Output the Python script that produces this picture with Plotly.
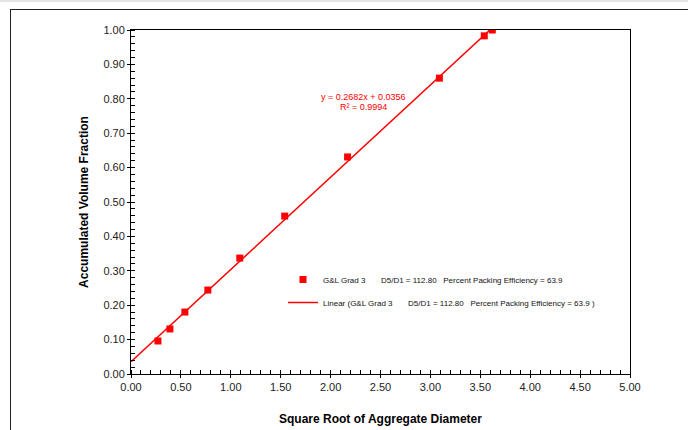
import plotly.graph_objects as go

# Data
sqrt_diameter = [0.27, 0.39, 0.54, 0.77, 1.09, 1.54, 2.17, 3.09, 3.54, 3.62]
volume_fraction = [0.096, 0.131, 0.180, 0.244, 0.337, 0.459, 0.631, 0.860, 0.983, 1.000]
slope = 0.2682
intercept = 0.0356
r_squared = 0.9994
trend_x = [0.0, max(sqrt_diameter)]
trend_y = [slope * v + intercept for v in trend_x]

x_ticks = [0.0, 0.5, 1.0, 1.5, 2.0, 2.5, 3.0, 3.5, 4.0, 4.5, 5.0]
y_ticks = [0.0, 0.1, 0.2, 0.3, 0.4, 0.5, 0.6, 0.7, 0.8, 0.9, 1.0]

NB = "\u00a0"
series_name = "G&L Grad 3" + NB * 7 + "D5/D1 = 112.80" + NB * 3 + "Percent Packing Efficiency = 63.9"
trend_name = "Linear (G&L Grad 3" + NB * 7 + "D5/D1 = 112.80" + NB * 3 + "Percent Packing Efficiency = 63.9 )"

W, H = 688, 430
L, R, T, B = 131, 58, 30, 56
pw, ph = W - L - R, H - T - B

def px(xpix):
    return (xpix - L) / pw

def py(ypix):
    return 1 + (T - ypix) / ph

fig = go.Figure()
fig.add_trace(go.Scatter(
    x=sqrt_diameter, y=volume_fraction, mode="markers", name=series_name,
    marker=dict(symbol="square", size=7, color="#ff0000"),
    legendgroup="a",
))
fig.add_trace(go.Scatter(
    x=trend_x, y=trend_y, mode="lines", name=trend_name,
    line=dict(color="#ff0000", width=1.5),
    legendgroup="b",
))

font_family = "Liberation Sans, Arial, sans-serif"

fig.update_layout(
    width=W, height=H,
    margin=dict(l=L, r=R, t=T, b=B, pad=0, autoexpand=False),
    paper_bgcolor="white", plot_bgcolor="white",
    font=dict(family=font_family, color="#222222", size=11),
    showlegend=True,
    legend=dict(
        x=px(283), y=py(265), xanchor="left", yanchor="top",
        bgcolor="rgba(0,0,0,0)", font=dict(size=8, color="#111111"),
        traceorder="grouped", tracegroupgap=4, itemwidth=30,
    ),
    xaxis=dict(
        range=[0, 5], tickvals=x_ticks, tickformat=".2f",
        showgrid=False, zeroline=False, automargin=False,
        showline=True, linecolor="black", linewidth=1, mirror=True,
        ticks="outside", ticklen=3, tickcolor="black",
        minor=dict(dtick=0.1, ticks="inside", ticklen=4, tickcolor="black", showgrid=False),
        tickfont=dict(size=11, color="#222222"),
        title=dict(text="<b>Square Root of Aggregate Diameter</b>", font=dict(size=12, color="black"), standoff=22),
    ),
    yaxis=dict(
        range=[0, 1], tickvals=y_ticks, tickformat=".2f",
        showgrid=False, zeroline=False, automargin=False,
        showline=True, linecolor="black", linewidth=1, mirror=True,
        ticks="outside", ticklen=3, tickcolor="black",
        minor=dict(dtick=0.02, ticks="inside", ticklen=4, tickcolor="black", showgrid=False),
        tickfont=dict(size=11, color="#222222"),
        title=dict(text="<b>Accumulated Volume Fraction</b>", font=dict(size=12, color="black"), standoff=12),
    ),
    annotations=[
        dict(x=px(363), y=py(97), xref="paper", yref="paper", yanchor="middle", xanchor="center",
             text=f"y = {slope:.4f}x + {intercept:.4f}",
             showarrow=False, font=dict(size=9, color="#ff0000")),
        dict(x=px(363), y=py(107), xref="paper", yref="paper", yanchor="middle", xanchor="center",
             text=f"R² = {r_squared:.4f}",
             showarrow=False, font=dict(size=9, color="#ff0000")),
    ],
    shapes=[
        dict(type="rect", xref="paper", yref="paper", x0=px(0), x1=px(W), y0=py(2), y1=py(0),
             fillcolor="#e4e4e4", line=dict(width=0), layer="below"),
        # outer chart-area frame (left and top edges; extends beyond the page)
        dict(type="rect", xref="paper", yref="paper", x0=px(10), x1=px(11), y0=py(H), y1=py(9),
             fillcolor="#222222", line=dict(width=0), layer="below"),
        dict(type="rect", xref="paper", yref="paper", x0=px(10), x1=px(W), y0=py(10), y1=py(9),
             fillcolor="#222222", line=dict(width=0), layer="below"),
    ],
)

fig.write_html("out.html")
